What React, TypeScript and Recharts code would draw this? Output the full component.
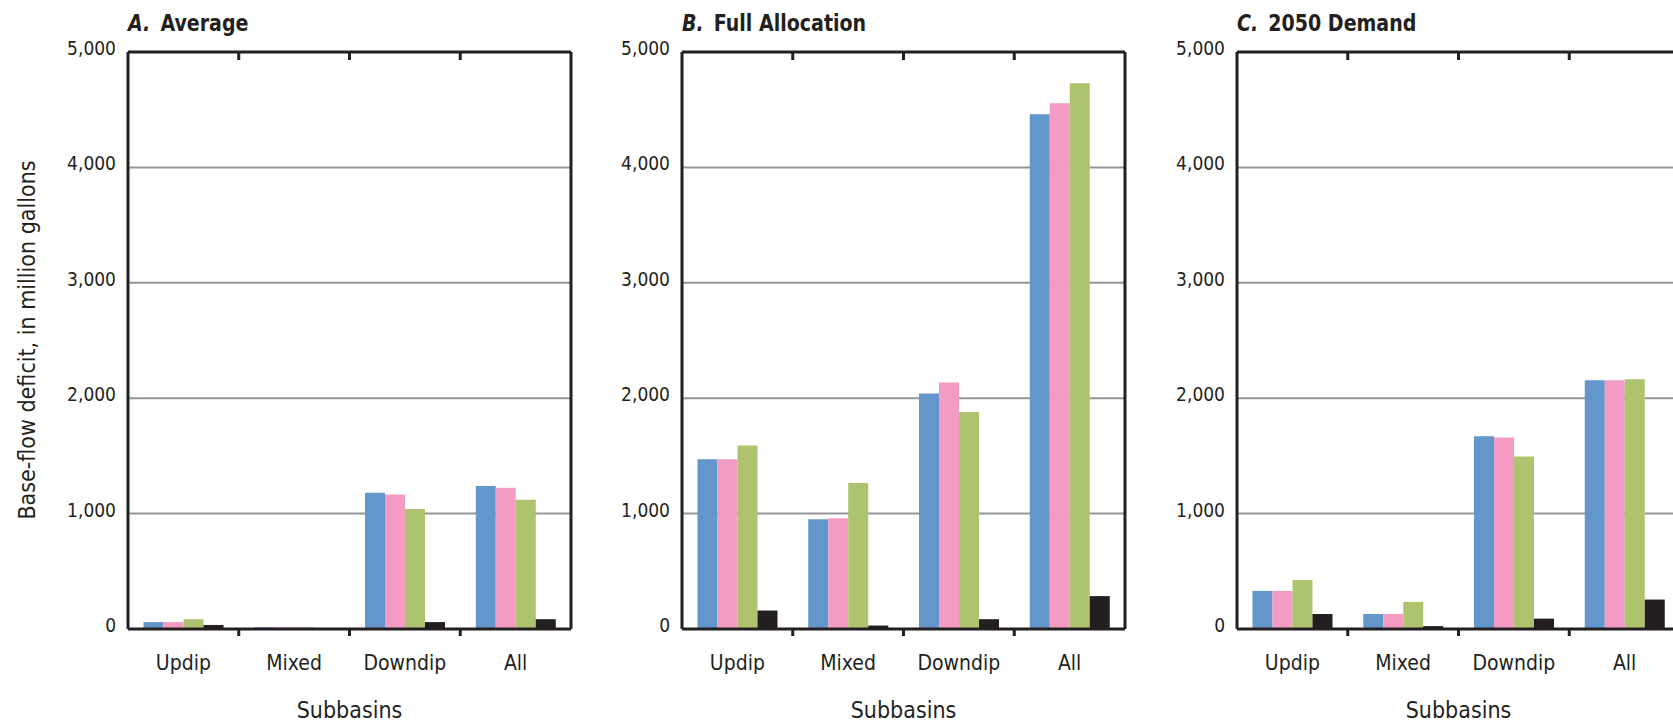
import React from "react";
import { BarChart, Bar, XAxis, YAxis, CartesianGrid, ReferenceLine } from "recharts";

// categories and axis ticks
const subbasins = ["Updip", "Mixed", "Downdip", "All"];
const yTicks = [0, 1000, 2000, 3000, 4000, 5000];

// A. Average — base-flow deficit, million gallons
const avgBlue = [60, 15, 1180, 1240];
const avgPink = [60, 15, 1165, 1225];
const avgGreen = [85, 15, 1040, 1120];
const avgBlack = [35, 0, 60, 85];

// B. Full Allocation
const fullBlue = [1470, 950, 2040, 4460];
const fullPink = [1470, 960, 2135, 4555];
const fullGreen = [1590, 1265, 1880, 4730];
const fullBlack = [160, 30, 85, 285];

// C. 2050 Demand
const demandBlue = [330, 130, 1670, 2155];
const demandPink = [330, 130, 1660, 2155];
const demandGreen = [425, 235, 1495, 2165];
const demandBlack = [130, 25, 90, 255];

const COLORS = { blue: "#6396cb", pink: "#f39bc2", green: "#adc36d", black: "#231f20" };
const INK = "#231f20";
const GRID = "#939598";
const FONT = "'Liberation Sans Narrow', 'DejaVu Sans Condensed', 'Arial Narrow', sans-serif";

const PLOT_TOP = 52;
const PLOT_W = 443;
const PLOT_H = 577;
const Y_W = 70;
const X_H = 723 - PLOT_TOP - PLOT_H;
const panelLefts = [128, 682, 1237];

const rows = (b: number[], p: number[], g: number[], k: number[]) =>
  subbasins.map((name, i) => ({ name, blue: b[i], pink: p[i], green: g[i], black: k[i] }));

// category label at band centre, tick marks at band edges (bottom and top of frame)
const CategoryTick = (props: any) => {
  const { x, y, payload, index } = props;
  const half = payload && payload.offset ? payload.offset : PLOT_W / subbasins.length / 2;
  const edge = x + half;
  return (
    <g>
      <text x={x} y={y + 41} textAnchor="middle" fill={INK} fontSize={21} fontFamily={FONT}>
        {payload.value}
      </text>
      {index < subbasins.length - 1 && (
        <g stroke={INK} strokeWidth={3}>
          <line x1={edge} x2={edge} y1={y} y2={y + 7} />
          <line x1={edge} x2={edge} y1={PLOT_TOP} y2={PLOT_TOP + 8} />
        </g>
      )}
    </g>
  );
};

const ValueTick = (props: any) => {
  const { x, y, payload } = props;
  return (
    <text x={x} y={y + 3} textAnchor="end" fill={INK} fontSize={19} fontFamily={FONT}>
      {Number(payload.value).toLocaleString("en-US")}
    </text>
  );
};

const Panel = ({ left, data }: { left: number; data: any[] }) => (
  <div style={{ position: "absolute", left: left - Y_W, top: 0 }}>
    <BarChart
      width={Y_W + PLOT_W + 3}
      height={723}
      data={data}
      margin={{ top: PLOT_TOP, right: 3, bottom: 0, left: 0 }}
      barCategoryGap="14%"
      barGap={0}
    >
      <CartesianGrid vertical={false} stroke={GRID} strokeWidth={2} />
      <XAxis
        dataKey="name"
        height={X_H}
        interval={0}
        tickSize={0}
        tickMargin={0}
        tickLine={false}
        axisLine={{ stroke: INK, strokeWidth: 3 }}
        tick={(p: any) => <CategoryTick {...p} />}
      />
      <YAxis
        width={Y_W}
        domain={[0, 5000]}
        ticks={yTicks}
        interval={0}
        tickSize={0}
        tickMargin={12}
        tickLine={false}
        axisLine={{ stroke: INK, strokeWidth: 3 }}
        tick={(p: any) => <ValueTick {...p} />}
      />
      <Bar dataKey="blue" fill={COLORS.blue} isAnimationActive={false} />
      <Bar dataKey="pink" fill={COLORS.pink} isAnimationActive={false} />
      <Bar dataKey="green" fill={COLORS.green} isAnimationActive={false} />
      <Bar dataKey="black" fill={COLORS.black} isAnimationActive={false} />
      <ReferenceLine y={5000} stroke={INK} strokeWidth={3} />
      <ReferenceLine x="All" position="end" stroke={INK} strokeWidth={3} />
    </BarChart>
  </div>
);

const titles = [
  { letter: "A.", text: "Average" },
  { letter: "B.", text: "Full Allocation" },
  { letter: "C.", text: "2050 Demand" },
];

export default function App() {
  const panels = [
    rows(avgBlue, avgPink, avgGreen, avgBlack),
    rows(fullBlue, fullPink, fullGreen, fullBlack),
    rows(demandBlue, demandPink, demandGreen, demandBlack),
  ];
  return (
    <div style={{ position: "fixed", left: 0, top: 0, width: 1673, height: 723, overflow: "hidden", background: "#fff" }}>
      <svg width={1673} height={723} style={{ position: "absolute", left: 0, top: 0 }} fontFamily={FONT} fill={INK}>
        {titles.map((t, i) => (
          <text
            key={t.letter}
            transform={`translate(${panelLefts[i]},31) scale(0.92,1)`}
            fontSize={23}
            fontWeight="bold"
          >
            <tspan fontStyle="italic">{t.letter}</tspan>
            <tspan dx={11}>{t.text}</tspan>
          </text>
        ))}
        {panelLefts.map((l) => (
          <text key={l} x={l + PLOT_W / 2} y={718} fontSize={23} textAnchor="middle">
            Subbasins
          </text>
        ))}
        <text transform="translate(35,340) rotate(-90)" fontSize={23} textAnchor="middle">
          Base-flow deficit, in million gallons
        </text>
      </svg>
      {panels.map((d, i) => (
        <Panel key={i} left={panelLefts[i]} data={d} />
      ))}
    </div>
  );
}
